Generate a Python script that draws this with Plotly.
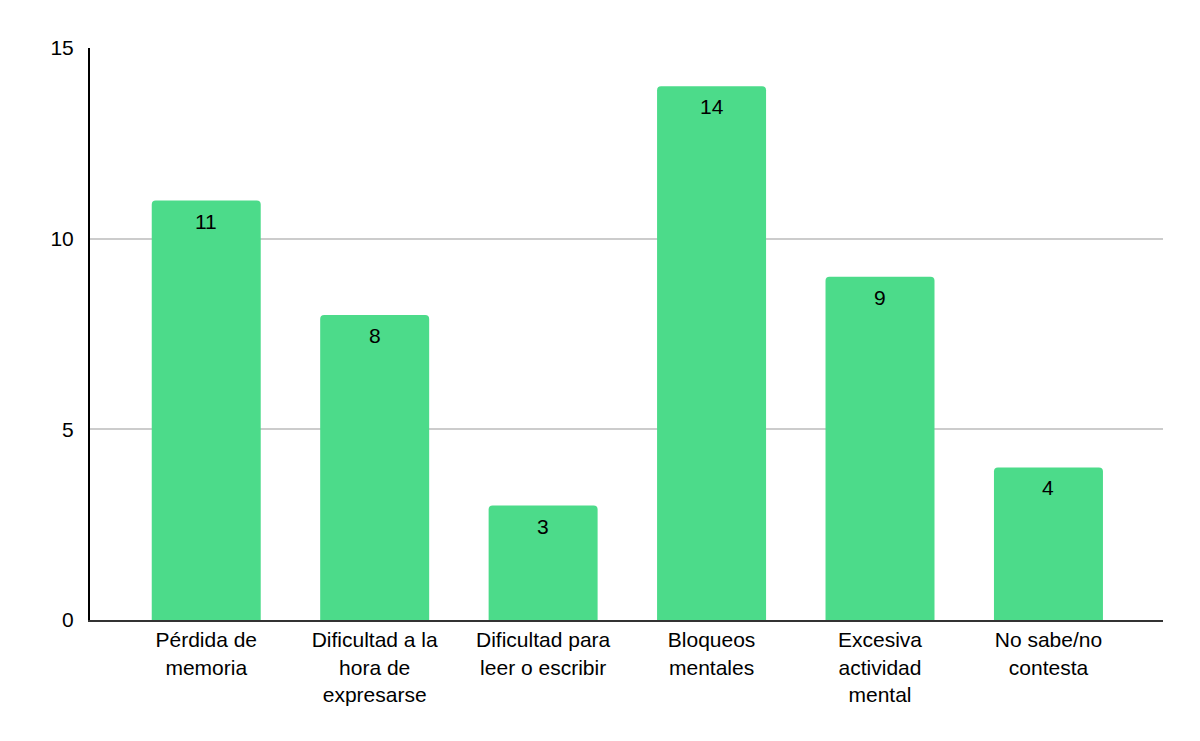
import plotly.graph_objects as go

categories = ["Pérdida de<br>memoria", "Dificultad a la<br>hora de<br>expresarse",
              "Dificultad para<br>leer o escribir", "Bloqueos<br>mentales",
              "Excesiva<br>actividad<br>mental", "No sabe/no<br>contesta"]
values = [11, 8, 3, 14, 9, 4]
y_ticks = [0, 5, 10, 15]

fig = go.Figure(go.Bar(
    x=list(range(len(categories))), y=values,
    marker=dict(color="#4cdb8a", cornerradius=4, line=dict(width=0)),
    showlegend=False, width=0.647, hoverinfo="x+y",
))

# value labels just inside the top of each bar
for i, v in enumerate(values):
    fig.add_annotation(x=i, y=v, text=str(v), showarrow=False, yanchor="top", yshift=-7,
                       font=dict(family="Liberation Sans, Arial", size=21, color="#000000"))

fig.update_layout(
    width=1200, height=741,
    margin=dict(l=82, r=45, t=40, b=129),
    plot_bgcolor="white", paper_bgcolor="white",
    font=dict(family="Liberation Sans, Arial", size=21, color="#000000"),
    showlegend=False,
    xaxis=dict(tickmode="array", tickvals=list(range(len(categories))), ticktext=categories,
               range=[-0.69, 5.68], showgrid=False, showline=True, linecolor="#333333",
               linewidth=2, ticks="", tickfont=dict(size=21)),
    yaxis=dict(range=[0, 15], tickvals=y_ticks, showgrid=True, gridcolor="#cccccc",
               gridwidth=1.5, zeroline=False, showline=True, linecolor="#000000", linewidth=2,
               ticks="", ticklabelstandoff=10, tickfont=dict(size=21)),
)

fig.write_html("out.html")
